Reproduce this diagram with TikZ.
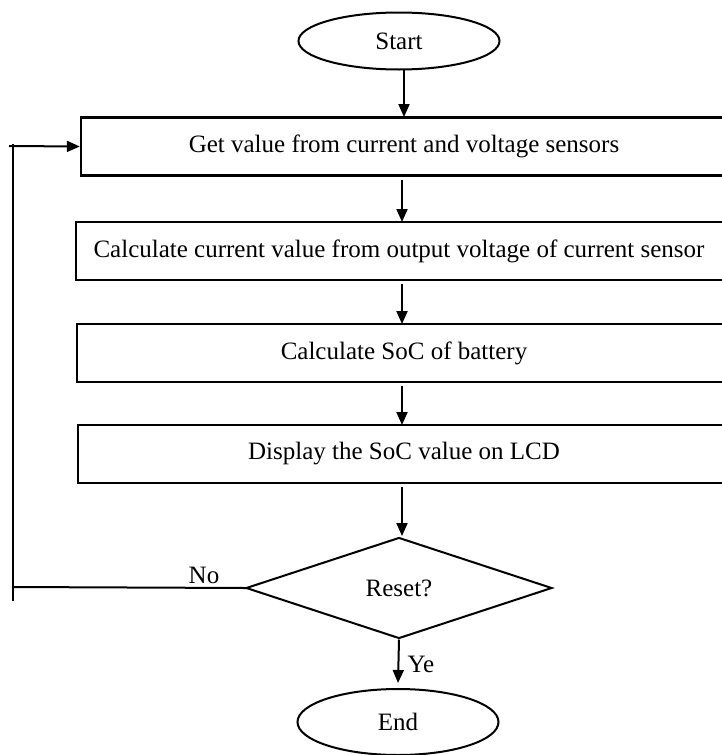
\documentclass[tikz,border=0pt]{standalone}
\usepackage{fontspec}
\setmainfont{Liberation Serif}
\usetikzlibrary{shapes.geometric,arrows.meta}
\begin{document}
\begin{tikzpicture}[x=1pt,y=-1pt,
  every node/.style={font=\fontsize{25}{30}\selectfont, inner sep=0pt},
  ln/.style={line width=2pt, line cap=rect},
  arr/.style={line width=2pt, -{Triangle[length=13pt,width=11pt]}},
  procbox/.style={draw, line width=2.4pt, rectangle, minimum height=58pt},
  term/.style={draw, line width=2pt, ellipse, minimum width=201pt},
  decis/.style={draw, line width=2pt, diamond, minimum width=306pt, minimum height=101pt}]
\useasboundingbox (0,0) rectangle (721,755);
\node[term, minimum height=57pt] (start) at (399,41) {Start};
\node[procbox, minimum width=646pt] (b1) at (404,146.5) {Get value from current and voltage sensors};
\node[procbox, minimum width=656pt] (b2) at (404,251) {};
\node at (399,251) {Calculate current value from output voltage of current sensor};
\node[procbox, minimum width=654pt] (b3) at (404,353) {Calculate SoC of battery};
\node[procbox, minimum width=652pt] (b4) at (404,454) {Display the SoC value on LCD};
\node[decis] (dec) at (399,588) {Reset?};
\node[term, minimum height=66pt] (endn) at (398,722) {End};
\node (no) at (204,575) {No};
\node (ye) at (421,664) {Ye};
% main flow
\coordinate (s0) at (404,70);
\coordinate (s1) at (404,117);
\draw[arr] (s0) -- (s1);
\coordinate (a1) at (402,180);
\coordinate (a1e) at (402,222);
\draw[arr] (a1) -- (a1e);
\coordinate (a2) at (402,284);
\coordinate (a2e) at (402,324);
\draw[arr] (a2) -- (a2e);
\coordinate (a3) at (402,386);
\coordinate (a3e) at (402,425);
\draw[arr] (a3) -- (a3e);
\coordinate (a4) at (402,487);
\coordinate (a4e) at (402,536);
\draw[arr] (a4) -- (a4e);
\coordinate (a5e) at (398,683);
\draw[arr] (dec.south) -- (a5e);
% feedback loop
\coordinate (fl) at (13,587);
\coordinate (fb) at (13,600);
\coordinate (ft) at (13,145);
\coordinate (fs) at (9,146);
\draw[ln] (dec.west) -- (fl);
\draw[ln] (fb) -- (ft);
\draw[arr] (fs) -- (b1.west);
\end{tikzpicture}
\end{document}
